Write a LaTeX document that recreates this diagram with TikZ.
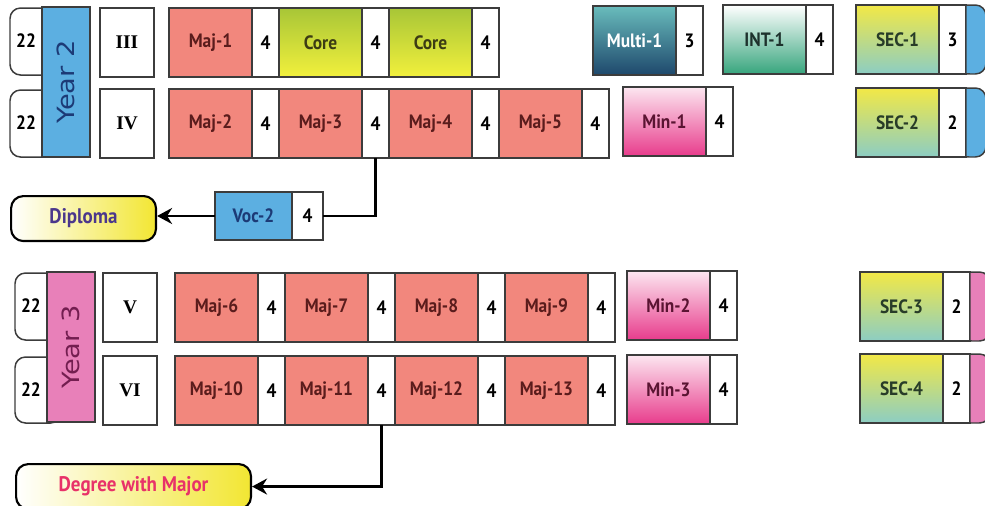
\documentclass[tikz,border=0pt]{standalone}
\usepackage{fontspec}
\usepackage{graphicx}
\newfontfamily\cellfont[FakeStretch=0.9]{PT Sans}
\newfontfamily\yearfont[FakeStretch=1.15]{DejaVu Sans}
\newfontfamily\romfont{Liberation Serif}
\usetikzlibrary{positioning,arrows.meta}

\definecolor{frame}{RGB}{60,60,60}
\definecolor{majred}{RGB}{242,135,125}
\definecolor{majtext}{RGB}{90,28,28}
\definecolor{coregreen}{RGB}{168,198,55}
\definecolor{coreyellow}{RGB}{242,240,60}
\definecolor{multitop}{RGB}{105,188,188}
\definecolor{multibot}{RGB}{30,72,108}
\definecolor{intbot}{RGB}{55,165,125}
\definecolor{secyellow}{RGB}{242,232,70}
\definecolor{secteal}{RGB}{140,205,195}
\definecolor{mintop}{RGB}{252,230,240}
\definecolor{minbot}{RGB}{232,60,140}
\definecolor{yearblue}{RGB}{92,175,225}
\definecolor{yearpink}{RGB}{232,128,185}
\definecolor{navytext}{RGB}{28,58,118}
\definecolor{plumtext}{RGB}{115,30,80}
\definecolor{exityellow}{RGB}{242,230,50}
\definecolor{diplomatext}{RGB}{75,55,140}
\definecolor{degreetext}{RGB}{232,50,105}

\tikzset{
  cell/.style={draw=frame, line width=0.85pt, outer sep=0pt, inner sep=0pt,
    minimum height=1.38cm, font=\cellfont\bfseries\fontsize{11}{12}\selectfont},
  credit/.style={cell, fill=white, minimum width=0.54cm},
  subj/.style={cell, minimum width=1.66cm},
  major/.style={subj, fill=majred, text=majtext},
  core/.style={subj, top color=coregreen, bottom color=coreyellow, text={rgb,255:red,60;green,60;blue,20}},
  multi/.style={subj, top color=multitop, bottom color=multibot, text=white},
  intern/.style={subj, top color=white, bottom color=intbot, text={rgb,255:red,30;green,50;blue,45}},
  sec/.style={subj, top color=secyellow, bottom color=secteal, text={rgb,255:red,40;green,60;blue,40}},
  minor/.style={subj, top color=mintop, bottom color=minbot, text={rgb,255:red,90;green,20;blue,50}},
  sem/.style={cell, fill=white, minimum width=1.08cm, font=\romfont\bfseries\fontsize{11}{12}\selectfont},
  totbox/.style={draw=frame, line width=0.85pt, fill=white, rounded corners=6pt},
  total/.style={font=\cellfont\bfseries\fontsize{11}{12}\selectfont},
  yearbox/.style={draw=frame, line width=0.85pt, inner sep=0pt, outer sep=0pt,
    minimum width=0.96cm, minimum height=3.0cm, font=\yearfont\fontsize{13.5}{14}\selectfont},
  capbox/.style={draw=frame, line width=0.85pt},
  exit/.style={draw=black, line width=1.2pt, rounded corners=7pt, left color=white,
    right color=exityellow, inner sep=0pt, font=\cellfont\bfseries\fontsize{12}{14}\selectfont},
  link/.style={draw=black, line width=1.4pt},
  arrow/.style={-{Stealth[length=3mm, width=3.2mm, inset=1mm]}}
}

\begin{document}
\begin{tikzpicture}[x=0.02cm, y=-0.02cm]
  \useasboundingbox (0,0) rectangle (985,505);
  \clip (0,0) rectangle (985,505);

  % Year 2: semester totals
  \draw[totbox] (10,8) rectangle (56,75);
  \node (tot3) [total] at (26,41) {22};
  \draw[totbox] (10,90) rectangle (56,157);
  \node (tot4) [total] at (26,123) {22};
  \node (year2) [yearbox, fill=yearblue, text=navytext, anchor=north west] at (42,7) {\rotatebox{90}{Year 2}};

  % Semester III
  \node (sem3) [sem, anchor=north west] at (100,8) {III};
  \node (maj1) [major, anchor=north west] at (169,8) {Maj-1};
  \node (maj1c) [credit, right=0pt of maj1] {4};
  \node (core1) [core, right=0pt of maj1c] {Core};
  \node (core1c) [credit, right=0pt of core1] {4};
  \node (core2) [core, right=0pt of core1c] {Core};
  \node (core2c) [credit, right=0pt of core2] {4};
  \node (multi1) [multi, anchor=north west] at (593,6) {Multi-1};
  \node (multi1c) [credit, right=0pt of multi1] {3};
  \node (int1) [intern, anchor=north west] at (723,5) {INT-1};
  \node (int1c) [credit, right=0pt of int1] {4};
  \node (sec1) [sec, anchor=north west] at (856,5) {SEC-1};
  \node (sec1c) [credit, right=0pt of sec1] {3};
  \draw[capbox, fill=yearblue] (sec1c.north east) [rounded corners=6pt] -- ++(20,0) -- ++(0,69) [sharp corners] -- (sec1c.south east) -- cycle;

  % Semester IV
  \node (sem4) [sem, anchor=north west] at (100,89) {IV};
  \node (maj2) [major, anchor=north west] at (169,89) {Maj-2};
  \node (maj2c) [credit, right=0pt of maj2] {4};
  \node (maj3) [major, right=0pt of maj2c] {Maj-3};
  \node (maj3c) [credit, right=0pt of maj3] {4};
  \node (maj4) [major, right=0pt of maj3c] {Maj-4};
  \node (maj4c) [credit, right=0pt of maj4] {4};
  \node (maj5) [major, right=0pt of maj4c] {Maj-5};
  \node (maj5c) [credit, right=0pt of maj5] {4};
  \node (min1) [minor, anchor=north west] at (623,87) {Min-1};
  \node (min1c) [credit, right=0pt of min1] {4};
  \node (sec2) [sec, anchor=north west] at (856,88) {SEC-2};
  \node (sec2c) [credit, right=0pt of sec2] {2};
  \draw[capbox, fill=yearblue] (sec2c.north east) [rounded corners=6pt] -- ++(20,0) -- ++(0,69) [sharp corners] -- (sec2c.south east) -- cycle;

  % Diploma exit
  \node (diploma) [exit, text=diplomatext, anchor=north west, minimum width=2.9cm, minimum height=0.9cm] at (10,195) {Diploma};
  \node (voc2) [cell, fill=yearblue, text=navytext, anchor=north west, minimum width=1.54cm, minimum height=0.96cm] at (215,192) {Voc-2};
  \node (voc2c) [credit, right=0pt of voc2, minimum width=0.62cm, minimum height=0.96cm] {4};
  \draw[link] (maj3c.south) |- (voc2c.east);
  \draw[link, arrow] (voc2.west) -- (voc2.west -| diploma.east);

  % Year 3: semester totals
  \draw[totbox] (15,273) rectangle (61,340);
  \node (tot5) [total] at (31,306) {22};
  \draw[totbox] (15,357) rectangle (61,423);
  \node (tot6) [total] at (31,390) {22};
  \node (year3) [yearbox, fill=yearpink, text=plumtext, anchor=north west] at (47,272) {\rotatebox{90}{Year 3}};

  % Semester V
  \node (sem5) [sem, anchor=north west] at (103,273) {V};
  \node (maj6) [major, anchor=north west] at (175,273) {Maj-6};
  \node (maj6c) [credit, right=0pt of maj6] {4};
  \node (maj7) [major, right=0pt of maj6c] {Maj-7};
  \node (maj7c) [credit, right=0pt of maj7] {4};
  \node (maj8) [major, right=0pt of maj7c] {Maj-8};
  \node (maj8c) [credit, right=0pt of maj8] {4};
  \node (maj9) [major, right=0pt of maj8c] {Maj-9};
  \node (maj9c) [credit, right=0pt of maj9] {4};
  \node (min2) [minor, anchor=north west] at (627,271) {Min-2};
  \node (min2c) [credit, right=0pt of min2] {4};
  \node (sec3) [sec, anchor=north west] at (860,272) {SEC-3};
  \node (sec3c) [credit, right=0pt of sec3] {2};
  \draw[capbox, fill=yearpink] (sec3c.north east) [rounded corners=6pt] -- ++(20,0) -- ++(0,69) [sharp corners] -- (sec3c.south east) -- cycle;

  % Semester VI
  \node (sem6) [sem, anchor=north west] at (103,356) {VI};
  \node (maj10) [major, anchor=north west] at (175,356) {Maj-10};
  \node (maj10c) [credit, right=0pt of maj10] {4};
  \node (maj11) [major, right=0pt of maj10c] {Maj-11};
  \node (maj11c) [credit, right=0pt of maj11] {4};
  \node (maj12) [major, right=0pt of maj11c] {Maj-12};
  \node (maj12c) [credit, right=0pt of maj12] {4};
  \node (maj13) [major, right=0pt of maj12c] {Maj-13};
  \node (maj13c) [credit, right=0pt of maj13] {4};
  \node (min3) [minor, anchor=north west] at (627,355) {Min-3};
  \node (min3c) [credit, right=0pt of min3] {4};
  \node (sec4) [sec, anchor=north west] at (860,354) {SEC-4};
  \node (sec4c) [credit, right=0pt of sec4] {2};
  \draw[capbox, fill=yearpink] (sec4c.north east) [rounded corners=6pt] -- ++(20,0) -- ++(0,69) [sharp corners] -- (sec4c.south east) -- cycle;

  % Degree exit
  \node (degree) [exit, text=degreetext, anchor=north west, minimum width=4.7cm, minimum height=0.9cm] at (15,463) {Degree with Major};
  \draw[link, arrow] (maj11c.south) |- (degree.east);
\end{tikzpicture}
\end{document}
